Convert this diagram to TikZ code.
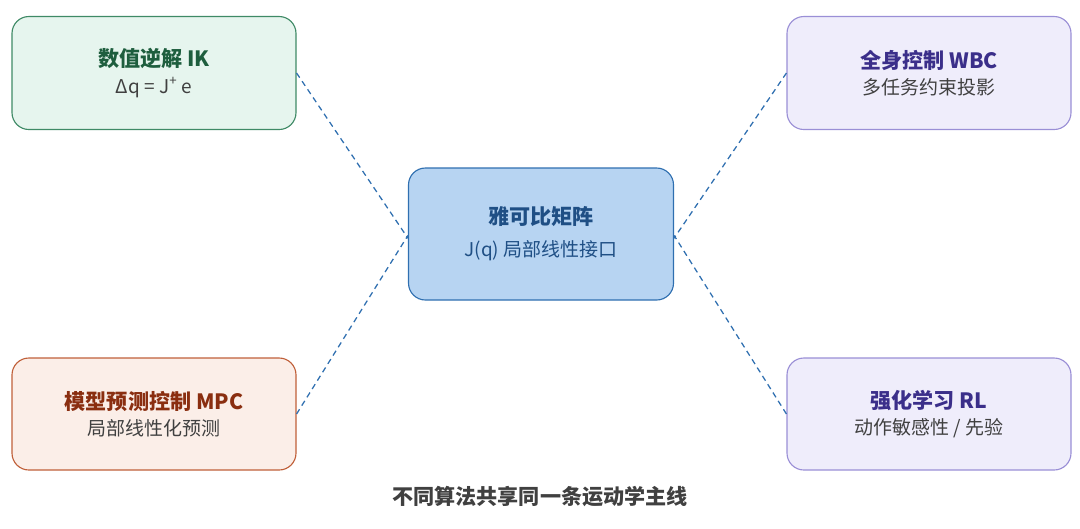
\documentclass[tikz,border=0pt]{standalone}
\usepackage{fontspec}
\setmainfont{Noto Sans CJK SC}
\begin{document}
\begin{tikzpicture}[x=0.025cm,y=-0.025cm,
 box/.style={draw,rounded corners=12pt,line width=0.8pt,align=center,inner sep=0pt},
 link/.style={draw=conn,line width=0.9pt,dash pattern=on 4pt off 3pt}]
\definecolor{conn}{HTML}{2F6FB0}
\definecolor{gfill}{HTML}{E6F5EE}\definecolor{gdraw}{HTML}{3F8A66}\definecolor{gtext}{HTML}{1E5E3E}
\definecolor{pfill}{HTML}{EFEDFB}\definecolor{pdraw}{HTML}{9A8FD6}\definecolor{ptext}{HTML}{3B2F8A}
\definecolor{cfill}{HTML}{B7D4F2}\definecolor{cdraw}{HTML}{2F6FB0}\definecolor{ctext}{HTML}{1F4F85}
\definecolor{ofill}{HTML}{FBEEE8}\definecolor{odraw}{HTML}{C0603A}\definecolor{otext}{HTML}{8A2E10}
\useasboundingbox (0,0) rectangle (1080,528);
\node[box,fill=gfill,draw=gdraw,minimum width=284*0.025cm,minimum height=113*0.025cm] (tl) at (154,73)
 {\textcolor{gtext}{\fontsize{15}{18}\selectfont\bfseries 数值逆解 IK}\\[5pt]{\fontsize{13.5}{16}\selectfont\color{black!75}Δq = J\textsuperscript{+} e}};
\node[box,fill=pfill,draw=pdraw,minimum width=284*0.025cm,minimum height=113*0.025cm] (tr) at (929,73)
 {\textcolor{ptext}{\fontsize{15}{18}\selectfont\bfseries 全身控制 WBC}\\[5pt]{\fontsize{13.5}{16}\selectfont\color{black!75}多任务约束投影}};
\node[box,fill=cfill,draw=cdraw,minimum width=265*0.025cm,minimum height=132*0.025cm] (c) at (541,234)
 {\textcolor{ctext}{\fontsize{15}{18}\selectfont\bfseries 雅可比矩阵}\\[9pt]{\fontsize{13.5}{16}\selectfont\color{ctext}J(q) 局部线性接口}};
\node[box,fill=ofill,draw=odraw,minimum width=284*0.025cm,minimum height=112*0.025cm] (bl) at (154,414)
 {\textcolor{otext}{\fontsize{15}{18}\selectfont\bfseries 模型预测控制 MPC}\\[5pt]{\fontsize{13.5}{16}\selectfont\color{black!75}局部线性化预测}};
\node[box,fill=pfill,draw=pdraw,minimum width=284*0.025cm,minimum height=112*0.025cm] (br) at (929,414)
 {\textcolor{ptext}{\fontsize{15}{18}\selectfont\bfseries 强化学习 RL}\\[5pt]{\fontsize{13.5}{16}\selectfont\color{black!75}动作敏感性 / 先验}};
\node[font=\fontsize{15}{18}\selectfont\bfseries,text=black!75] (cap) at (540,497) {不同算法共享同一条运动学主线};
\draw[link] (tl.east) -- ([yshift=-3pt]c.west);
\draw[link] (bl.east) -- ([yshift=-1pt]c.west);
\draw[link] (tr.west) -- ([yshift=-3pt]c.east);
\draw[link] (br.west) -- ([yshift=-1pt]c.east);
\end{tikzpicture}
\end{document}
